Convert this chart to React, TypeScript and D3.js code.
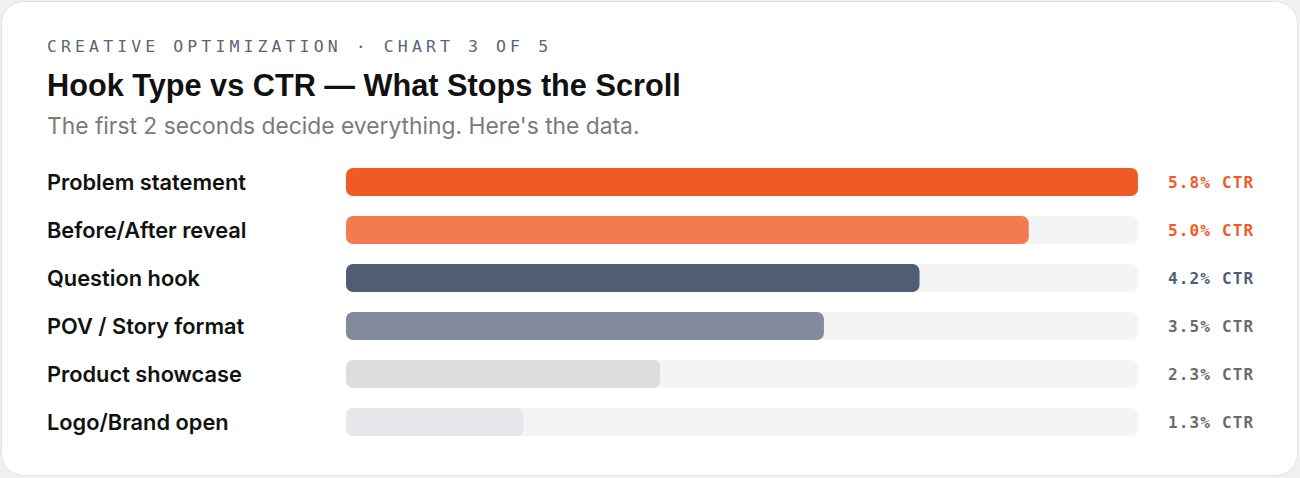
import React from "react";
import * as d3 from "d3";

const categories = [
  "Problem statement",
  "Before/After reveal",
  "Question hook",
  "POV / Story format",
  "Product showcase",
  "Logo/Brand open",
];
const ctrValues = [5.8, 5.0, 4.2, 3.5, 2.3, 1.3];
const barColors = ["#F15A24", "#F47A50", "#4F5D75", "#828A9B", "#DDDDDD", "#E5E7EB"];
const valueColors = ["#F15A24", "#F15A24", "#4F5D75", "#6B6B6B", "#6B6B6B", "#6B6B6B"];

const eyebrow = "CREATIVE OPTIMIZATION · CHART 3 OF 5";
const title = "Hook Type vs CTR — What Stops the Scroll";
const subtitle = "The first 2 seconds decide everything. Here's the data.";

const W = 1300;
const H = 478;

export default function App() {
  const x = d3.scaleLinear().domain([0, d3.max(ctrValues) as number]).range([346, 1138]);
  const y = d3
    .scaleBand<string>()
    .domain(categories)
    .range([158, 446])
    .paddingInner(20 / 48)
    .paddingOuter(10 / 48);
  const bh = y.bandwidth();
  const mono = "'DejaVu Sans Mono', monospace";
  const sans = "Inter, 'Noto Sans', sans-serif";
  const head = "'Liberation Sans', Arial, sans-serif";
  return (
    <svg
      width={W}
      height={H}
      style={{ position: "absolute", left: 0, top: 0, display: "block" }}
    >
      <rect x={0} y={0} width={W} height={H} fill="#F0F0F0" />
      <rect x={1.5} y={1.5} width={1296} height={474} rx={22} fill="#FFFFFF" stroke="#E4E4E4" />
      <text x={47} y={52} fontFamily={mono} fontSize={16.5} letterSpacing={4.1} fill="#5A6579">
        {eyebrow}
      </text>
      <text x={47} y={96} fontFamily={head} fontSize={30.7} fontWeight={700} fill="#111111">
        {title}
      </text>
      <text x={47} y={134} fontFamily={sans} fontSize={22.8} fill="#7A7A7A">
        {subtitle}
      </text>
      {categories.map((c, i) => {
        const yy = y(c) as number;
        return (
          <g key={c}>
            <text x={47} y={yy + bh / 2} dy="0.36em" fontFamily={sans} fontSize={21.8} fontWeight={600} fill="#111111">
              {c}
            </text>
            <rect x={x(0)} y={yy} width={x(5.8) - x(0)} height={bh} rx={7} fill="#F4F4F4" />
            <rect x={x(0)} y={yy} width={x(ctrValues[i]) - x(0)} height={bh} rx={7} fill={barColors[i]} />
            <text
              x={1168}
              y={yy + bh / 2}
              dy="0.36em"
              fontFamily={mono}
              fontSize={16}
              fontWeight={700}
              letterSpacing={1.15}
              fill={valueColors[i]}
            >
              {ctrValues[i].toFixed(1) + "% CTR"}
            </text>
          </g>
        );
      })}
    </svg>
  );
}
